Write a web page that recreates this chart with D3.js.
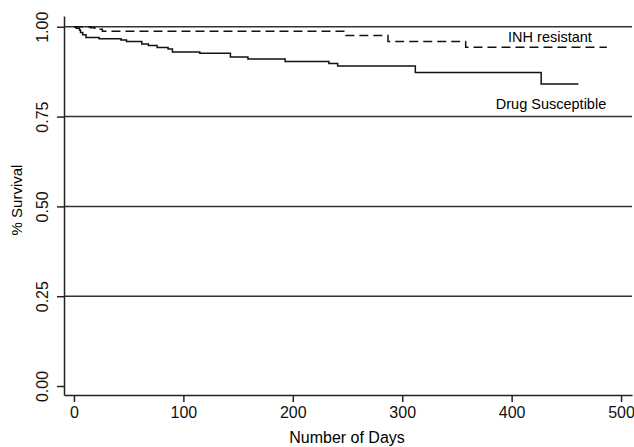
<!DOCTYPE html>
<html>
<head>
<meta charset="utf-8">
<script src="https://cdn.jsdelivr.net/npm/d3@7"></script>
<style>
  body { margin: 0; background: #fff; }
  svg { font-family: "Liberation Sans", Arial, sans-serif; }
  .grid line { stroke: #333; stroke-width: 1.5; }
  .axis path, .axis line { stroke: #222; stroke-width: 1.5; }
  .axis text { font-size: 16px; fill: #111; }
</style>
</head>
<body>
<svg width="634" height="447"></svg>
<script>
// Kaplan-Meier steps (day, survival)
var susDays = [0, 2, 5, 6, 8, 11, 23, 43, 48, 62, 68, 76, 86, 90, 115, 143, 159, 193, 233, 241, 312, 427, 461];
var susSurv = [1.0, 0.996, 0.991, 0.984, 0.978, 0.970, 0.967, 0.963, 0.959, 0.952, 0.948, 0.942, 0.938, 0.930, 0.926, 0.916, 0.910, 0.903, 0.898, 0.891, 0.873, 0.841, 0.841];

var resDays = [0, 15, 19, 26, 248, 287, 358, 487];
var resSurv = [1.0, 0.997, 0.993, 0.9875, 0.976, 0.959, 0.943, 0.943];

var xTicks = [0, 100, 200, 300, 400, 500];
var yTicks = [0, 0.25, 0.5, 0.75, 1.0];
var gridVals = [0.25, 0.5, 0.75, 1.0];

var svg = d3.select("svg");

var x = d3.scaleLinear().domain([-9.1, 510]).range([64, 632]);
var y = d3.scaleLinear().domain([-0.025, 1.03]).range([395, 16]);

// horizontal reference lines
svg.append("g")
  .attr("class", "grid")
  .selectAll("line")
  .data(gridVals)
  .enter().append("line")
    .attr("x1", x.range()[0])
    .attr("x2", x.range()[1])
    .attr("y1", function(d) { return y(d); })
    .attr("y2", function(d) { return y(d); });

var gx = svg.append("g")
  .attr("class", "axis")
  .attr("transform", "translate(0,395)")
  .call(d3.axisBottom(x).tickValues(xTicks).tickSize(7).tickSizeOuter(0).tickPadding(5));

var gy = svg.append("g")
  .attr("class", "axis")
  .attr("transform", "translate(64,0)")
  .call(d3.axisLeft(y).tickValues(yTicks).tickSize(7).tickSizeOuter(0).tickFormat(d3.format(".2f")));

gy.selectAll(".tick text")
  .attr("transform", "rotate(-90)")
  .attr("x", 0)
  .attr("y", -16)
  .attr("text-anchor", "middle")
  .attr("dy", "0");

var line = d3.line()
  .x(function(d) { return x(d[0]); })
  .y(function(d) { return y(d[1]); })
  .curve(d3.curveStepAfter);

svg.append("path")
  .datum(d3.zip(susDays, susSurv))
  .attr("fill", "none")
  .attr("stroke", "#111")
  .attr("stroke-width", 1.5)
  .attr("d", line);

svg.append("path")
  .datum(d3.zip(resDays, resSurv))
  .attr("fill", "none")
  .attr("stroke", "#111")
  .attr("stroke-width", 1.5)
  .attr("stroke-dasharray", "9,5")
  .attr("d", line);

svg.append("text")
  .attr("x", 550).attr("y", 42)
  .attr("text-anchor", "middle")
  .attr("font-size", 14.5)
  .text("INH resistant");

svg.append("text")
  .attr("x", 551).attr("y", 109)
  .attr("text-anchor", "middle")
  .attr("font-size", 14.5)
  .text("Drug Susceptible");

svg.append("text")
  .attr("x", 347).attr("y", 443)
  .attr("text-anchor", "middle")
  .attr("font-size", 16)
  .text("Number of Days");

svg.append("text")
  .attr("transform", "translate(22,200) rotate(-90)")
  .attr("text-anchor", "middle")
  .attr("font-size", 15)
  .text("% Survival");
</script>
</body>
</html>
